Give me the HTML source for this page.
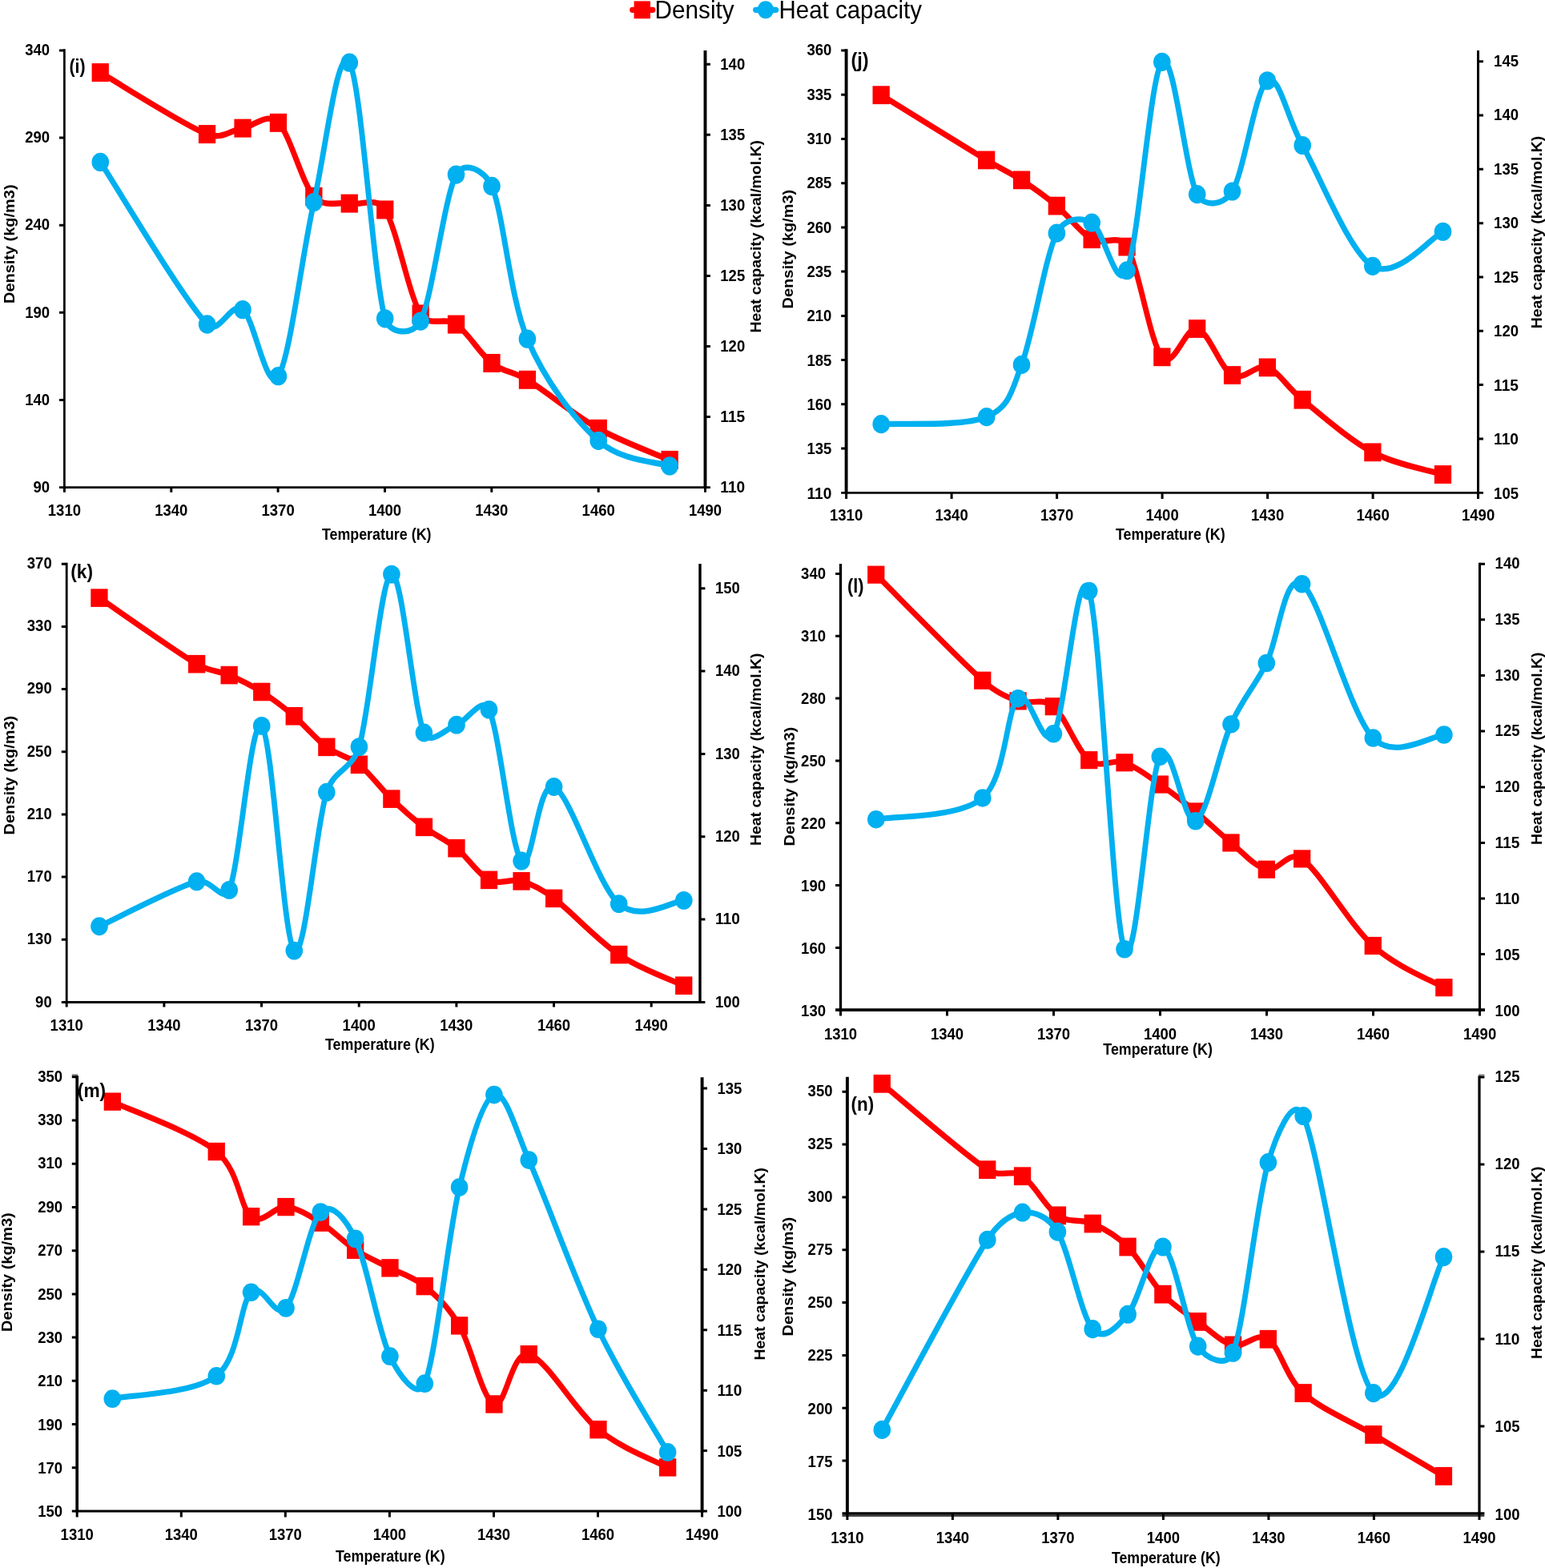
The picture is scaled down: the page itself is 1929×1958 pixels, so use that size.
<!DOCTYPE html>
<html lang="en"><head><meta charset="utf-8">
<title>Density and heat capacity versus temperature</title>
<style>
html,body{margin:0;padding:0;background:#fff;}
body{width:1929px;height:1958px;overflow:hidden;}
svg{display:block;filter:blur(0.5px);}
text{font-family:"Liberation Sans",sans-serif;fill:#000;}
.tk{font-weight:bold;font-size:19.4px;}
.tt{font-weight:bold;font-size:19.4px;}
.vt{font-weight:bold;font-size:18.6px;}
.pl{font-weight:bold;font-size:24.2px;}
.lg{font-size:32px;}
.ax{stroke:#000;fill:none;stroke-linecap:butt;}
.t{stroke:#000;stroke-width:3;fill:none;stroke-linecap:butt;}
.r{stroke:#ff0000;stroke-width:6.85;fill:none;stroke-linejoin:round;stroke-linecap:round;}
.c{stroke:#00b0f0;stroke-width:6.85;fill:none;stroke-linejoin:round;stroke-linecap:round;}
.rm{fill:#ff0000;}
.cm{fill:#00b0f0;}
</style></head><body>
<svg xmlns="http://www.w3.org/2000/svg" width="1929" height="1958" viewBox="0 0 1929 1958">
<rect width="1929" height="1958" fill="#fff"/>
<g id="legend">
<g transform="scale(1 1.07)">
<path class="r" d="M789.6 11.5H815"/>
<rect class="rm" x="791.6" y="1.3" width="20.4" height="20.4"/>
<path class="c" d="M943.5 11.5H968.8"/>
<circle class="cm" cx="955.9" cy="11.5" r="10.3"/>
</g>
<text class="lg" x="817.6" y="22.6" textLength="99" lengthAdjust="spacingAndGlyphs">Density</text>
<text class="lg" x="972.6" y="22.6" textLength="178.4" lengthAdjust="spacingAndGlyphs">Heat capacity</text>
</g>
<g id="panel-i">
<path class="ax" stroke-width="2.7" d="M80.4 61.2V610.1"/>
<path class="ax" stroke-width="3.9" d="M880.5 63.1V610.1"/>
<path class="ax" stroke-width="2.9" d="M74 608.6H886.9"/>
<path class="t" d="M74 62.9H80.4M74 172H80.4M74 281.2H80.4M74 390.3H80.4M74 499.5H80.4M880.5 80.3H886.9M880.5 168.3H886.9M880.5 256.4H886.9M880.5 344.4H886.9M880.5 432.5H886.9M880.5 520.5H886.9M80.4 608.6V614.7M213.8 608.6V614.7M347.1 608.6V614.7M480.5 608.6V614.7M613.8 608.6V614.7M747.2 608.6V614.7M880.5 608.6V614.7"/>
<text class="tk" x="31.2" y="69.2" textLength="30.9" lengthAdjust="spacingAndGlyphs">340</text>
<text class="tk" x="31.2" y="178.3" textLength="30.9" lengthAdjust="spacingAndGlyphs">290</text>
<text class="tk" x="31.2" y="287.4" textLength="30.9" lengthAdjust="spacingAndGlyphs">240</text>
<text class="tk" x="31.2" y="396.5" textLength="30.9" lengthAdjust="spacingAndGlyphs">190</text>
<text class="tk" x="31.2" y="505.7" textLength="30.9" lengthAdjust="spacingAndGlyphs">140</text>
<text class="tk" x="41.5" y="614.8" textLength="20.6" lengthAdjust="spacingAndGlyphs">90</text>
<text class="tk" x="899.3" y="86.9" textLength="30.9" lengthAdjust="spacingAndGlyphs">140</text>
<text class="tk" x="899.3" y="174.8" textLength="30.9" lengthAdjust="spacingAndGlyphs">135</text>
<text class="tk" x="899.3" y="262.9" textLength="30.9" lengthAdjust="spacingAndGlyphs">130</text>
<text class="tk" x="899.3" y="350.8" textLength="30.9" lengthAdjust="spacingAndGlyphs">125</text>
<text class="tk" x="899.3" y="438.8" textLength="30.9" lengthAdjust="spacingAndGlyphs">120</text>
<text class="tk" x="899.3" y="526.9" textLength="30.9" lengthAdjust="spacingAndGlyphs">115</text>
<text class="tk" x="899.3" y="614.9" textLength="30.9" lengthAdjust="spacingAndGlyphs">110</text>
<text class="tk" x="59.8" y="644" textLength="41.2" lengthAdjust="spacingAndGlyphs">1310</text>
<text class="tk" x="193.2" y="644" textLength="41.2" lengthAdjust="spacingAndGlyphs">1340</text>
<text class="tk" x="326.5" y="644" textLength="41.2" lengthAdjust="spacingAndGlyphs">1370</text>
<text class="tk" x="459.9" y="644" textLength="41.2" lengthAdjust="spacingAndGlyphs">1400</text>
<text class="tk" x="593.2" y="644" textLength="41.2" lengthAdjust="spacingAndGlyphs">1430</text>
<text class="tk" x="726.6" y="644" textLength="41.2" lengthAdjust="spacingAndGlyphs">1460</text>
<text class="tk" x="859.9" y="644" textLength="41.2" lengthAdjust="spacingAndGlyphs">1490</text>
<text class="tt" x="401.9" y="674" textLength="136.6" lengthAdjust="spacingAndGlyphs">Temperature (K)</text>
<text class="vt" transform="translate(17.6 379) rotate(-90)" textLength="148.6" lengthAdjust="spacingAndGlyphs">Density (kg/m3)</text>
<text class="vt" transform="translate(950 415.6) rotate(-90)" textLength="240.6" lengthAdjust="spacingAndGlyphs">Heat capacity (kcal/mol.K)</text>
<g transform="scale(1 1.08)">
<path class="r" d="M125.3 83.9C147.5 95.8 229 144.5 258.6 155.2C276.8 161.8 288.2 150.4 303 148.2C317.8 146 333 129.1 347.4 141.9C362.2 155.1 377 211.6 391.9 227.1C405.2 241.2 421.5 232.7 436.3 235.3C451.1 237.9 469.6 226.7 480.7 242.6C495.5 263.9 510.3 340.9 525.1 363C536.1 379.4 554.7 365.5 569.5 375C584.4 384.5 599.2 409.1 614 419.8C628.8 430.5 640.3 428.9 658.4 439.2C680.6 451.8 717.6 480.2 747.2 495.6C776.9 511.1 821.3 525.8 836.1 531.9"/>
<rect class="rm" x="114.6" y="73.2" width="21.3" height="21.3"/>
<rect class="rm" x="247.9" y="144.5" width="21.3" height="21.3"/>
<rect class="rm" x="292.4" y="137.6" width="21.3" height="21.3"/>
<rect class="rm" x="336.8" y="131.3" width="21.3" height="21.3"/>
<rect class="rm" x="381.2" y="216.5" width="21.3" height="21.3"/>
<rect class="rm" x="425.6" y="224.6" width="21.3" height="21.3"/>
<rect class="rm" x="470.1" y="231.9" width="21.3" height="21.3"/>
<rect class="rm" x="514.5" y="352.3" width="21.3" height="21.3"/>
<rect class="rm" x="558.9" y="364.4" width="21.3" height="21.3"/>
<rect class="rm" x="603.3" y="409.2" width="21.3" height="21.3"/>
<rect class="rm" x="647.8" y="428.5" width="21.3" height="21.3"/>
<rect class="rm" x="736.6" y="485" width="21.3" height="21.3"/>
<rect class="rm" x="825.5" y="521.2" width="21.3" height="21.3"/>
<path class="c" d="M125.3 187.4C147.5 218.7 229 346.6 258.6 375C273.3 389.2 288.2 348 303 358C317.8 367.9 332.6 455.6 347.4 434.9C362.2 414.2 377 294.3 391.9 233.9C406.7 173.5 421.5 50 436.3 72.4C451.1 94.8 465.9 318.6 480.7 368.4C486.2 386.8 516.1 388.3 525.1 371.4C539.9 343.6 554.7 228 569.5 201.9C579.4 184.6 605.5 197.1 614 215.2C628.8 246.8 636.2 342.7 658.4 391.8C680.6 440.8 717.6 485.1 747.2 509.6C776.9 534.1 821.3 533.9 836.1 538.8"/>
<circle class="cm" cx="125.3" cy="187.4" r="10.8"/>
<circle class="cm" cx="258.6" cy="375" r="10.8"/>
<circle class="cm" cx="303" cy="358" r="10.8"/>
<circle class="cm" cx="347.4" cy="434.9" r="10.8"/>
<circle class="cm" cx="391.9" cy="233.9" r="10.8"/>
<circle class="cm" cx="436.3" cy="72.4" r="10.8"/>
<circle class="cm" cx="480.7" cy="368.4" r="10.8"/>
<circle class="cm" cx="525.1" cy="371.4" r="10.8"/>
<circle class="cm" cx="569.5" cy="201.9" r="10.8"/>
<circle class="cm" cx="614" cy="215.2" r="10.8"/>
<circle class="cm" cx="658.4" cy="391.8" r="10.8"/>
<circle class="cm" cx="747.2" cy="509.6" r="10.8"/>
<circle class="cm" cx="836.1" cy="538.8" r="10.8"/>
</g>
<text class="pl" x="86.4" y="90.6" textLength="20.2" lengthAdjust="spacingAndGlyphs">(i)</text>
</g>
<g id="panel-j">
<path class="ax" stroke-width="3.9" d="M1056.6 61.3V616.6"/>
<path class="ax" stroke-width="3" d="M1845.5 63.1V616.6"/>
<path class="ax" stroke-width="2.7" d="M1050.2 615.3H1852"/>
<path class="t" d="M1050.2 63H1056.6M1050.2 118.2H1056.6M1050.2 173.5H1056.6M1050.2 228.7H1056.6M1050.2 283.9H1056.6M1050.2 339.1H1056.6M1050.2 394.4H1056.6M1050.2 449.6H1056.6M1050.2 504.8H1056.6M1050.2 560.1H1056.6M1845.5 76.7H1852M1845.5 144H1852M1845.5 211.3H1852M1845.5 278.7H1852M1845.5 346H1852M1845.5 413.3H1852M1845.5 480.6H1852M1845.5 548H1852M1056.6 615.3V622.9M1188.1 615.3V622.9M1319.6 615.3V622.9M1451.1 615.3V622.9M1582.6 615.3V622.9M1714.1 615.3V622.9M1845.5 615.3V622.9"/>
<text class="tk" x="1007.4" y="69.2" textLength="30.9" lengthAdjust="spacingAndGlyphs">360</text>
<text class="tk" x="1007.4" y="124.5" textLength="30.9" lengthAdjust="spacingAndGlyphs">335</text>
<text class="tk" x="1007.4" y="179.8" textLength="30.9" lengthAdjust="spacingAndGlyphs">310</text>
<text class="tk" x="1007.4" y="235.2" textLength="30.9" lengthAdjust="spacingAndGlyphs">285</text>
<text class="tk" x="1007.4" y="290.5" textLength="30.9" lengthAdjust="spacingAndGlyphs">260</text>
<text class="tk" x="1007.4" y="345.9" textLength="30.9" lengthAdjust="spacingAndGlyphs">235</text>
<text class="tk" x="1007.4" y="401.2" textLength="30.9" lengthAdjust="spacingAndGlyphs">210</text>
<text class="tk" x="1007.4" y="456.6" textLength="30.9" lengthAdjust="spacingAndGlyphs">185</text>
<text class="tk" x="1007.4" y="511.9" textLength="30.9" lengthAdjust="spacingAndGlyphs">160</text>
<text class="tk" x="1007.4" y="567.2" textLength="30.9" lengthAdjust="spacingAndGlyphs">135</text>
<text class="tk" x="1007.4" y="622.6" textLength="30.9" lengthAdjust="spacingAndGlyphs">110</text>
<text class="tk" x="1865.1" y="82.8" textLength="30.9" lengthAdjust="spacingAndGlyphs">145</text>
<text class="tk" x="1865.1" y="150.2" textLength="30.9" lengthAdjust="spacingAndGlyphs">140</text>
<text class="tk" x="1865.1" y="217.7" textLength="30.9" lengthAdjust="spacingAndGlyphs">135</text>
<text class="tk" x="1865.1" y="285.2" textLength="30.9" lengthAdjust="spacingAndGlyphs">130</text>
<text class="tk" x="1865.1" y="352.7" textLength="30.9" lengthAdjust="spacingAndGlyphs">125</text>
<text class="tk" x="1865.1" y="420.2" textLength="30.9" lengthAdjust="spacingAndGlyphs">120</text>
<text class="tk" x="1865.1" y="487.7" textLength="30.9" lengthAdjust="spacingAndGlyphs">115</text>
<text class="tk" x="1865.1" y="555.2" textLength="30.9" lengthAdjust="spacingAndGlyphs">110</text>
<text class="tk" x="1865.1" y="622.7" textLength="30.9" lengthAdjust="spacingAndGlyphs">105</text>
<text class="tk" x="1036" y="650.3" textLength="41.2" lengthAdjust="spacingAndGlyphs">1310</text>
<text class="tk" x="1167.5" y="650.3" textLength="41.2" lengthAdjust="spacingAndGlyphs">1340</text>
<text class="tk" x="1299" y="650.3" textLength="41.2" lengthAdjust="spacingAndGlyphs">1370</text>
<text class="tk" x="1430.5" y="650.3" textLength="41.2" lengthAdjust="spacingAndGlyphs">1400</text>
<text class="tk" x="1562" y="650.3" textLength="41.2" lengthAdjust="spacingAndGlyphs">1430</text>
<text class="tk" x="1693.5" y="650.3" textLength="41.2" lengthAdjust="spacingAndGlyphs">1460</text>
<text class="tk" x="1825" y="650.3" textLength="41.2" lengthAdjust="spacingAndGlyphs">1490</text>
<text class="tt" x="1393" y="673.8" textLength="136.6" lengthAdjust="spacingAndGlyphs">Temperature (K)</text>
<text class="vt" transform="translate(990.2 385.4) rotate(-90)" textLength="148.6" lengthAdjust="spacingAndGlyphs">Density (kg/m3)</text>
<text class="vt" transform="translate(1925 410.3) rotate(-90)" textLength="240.6" lengthAdjust="spacingAndGlyphs">Heat capacity (kcal/mol.K)</text>
<g transform="scale(1 1.07)">
<path class="r" d="M1100.2 110.9C1122.1 123.6 1202.5 170.3 1231.7 186.8C1250.3 197.3 1260.9 201.3 1275.5 210.2C1290.1 219.1 1304.8 228.8 1319.4 240.3C1334 251.8 1348.6 271.2 1363.2 279.2C1377.8 287.1 1396.7 271.7 1407 287.9C1421.6 310.9 1436.2 400.7 1450.8 416.6C1465.5 432.6 1480.1 380.1 1494.7 383.6C1509.3 387.2 1523.9 430.3 1538.5 437.9C1553.1 445.4 1567.7 424.1 1582.3 428.9C1596.9 433.7 1606.3 451.6 1626.2 466.5C1648.1 483 1684.6 513.3 1713.8 527.9C1743.1 542.4 1786.9 549.4 1801.5 553.7"/>
<rect class="rm" x="1089.5" y="100.3" width="21.3" height="21.3"/>
<rect class="rm" x="1221" y="176.2" width="21.3" height="21.3"/>
<rect class="rm" x="1264.9" y="199.5" width="21.3" height="21.3"/>
<rect class="rm" x="1308.7" y="229.6" width="21.3" height="21.3"/>
<rect class="rm" x="1352.5" y="268.5" width="21.3" height="21.3"/>
<rect class="rm" x="1396.4" y="277.3" width="21.3" height="21.3"/>
<rect class="rm" x="1440.2" y="406" width="21.3" height="21.3"/>
<rect class="rm" x="1484" y="373" width="21.3" height="21.3"/>
<rect class="rm" x="1527.9" y="427.2" width="21.3" height="21.3"/>
<rect class="rm" x="1571.7" y="418.2" width="21.3" height="21.3"/>
<rect class="rm" x="1615.5" y="455.9" width="21.3" height="21.3"/>
<rect class="rm" x="1703.2" y="517.2" width="21.3" height="21.3"/>
<rect class="rm" x="1790.8" y="543.1" width="21.3" height="21.3"/>
<path class="c" d="M1100.2 495C1122.1 493.6 1202.5 498.2 1231.7 486.6C1260.9 475.1 1263.3 455.5 1275.5 425.6C1290.1 389.9 1304.8 299.8 1319.4 272.1C1328.5 254.9 1348.6 252.6 1363.2 259.9C1377.8 267.2 1394.1 343.3 1407 315.7C1421.6 284.4 1436.2 87.2 1450.8 72.3C1465.5 57.5 1480.1 201.6 1494.7 226.7C1504.2 243.1 1528.1 239.1 1538.5 223.4C1553.1 201.3 1567.7 103.2 1582.3 94.2C1597 85.2 1606.7 137.6 1626.2 169.6C1648.1 205.7 1684.6 293.8 1713.8 310.6C1743.1 327.3 1786.9 277 1801.5 270.3"/>
<circle class="cm" cx="1100.2" cy="495" r="10.8"/>
<circle class="cm" cx="1231.7" cy="486.6" r="10.8"/>
<circle class="cm" cx="1275.5" cy="425.6" r="10.8"/>
<circle class="cm" cx="1319.4" cy="272.1" r="10.8"/>
<circle class="cm" cx="1363.2" cy="259.9" r="10.8"/>
<circle class="cm" cx="1407" cy="315.7" r="10.8"/>
<circle class="cm" cx="1450.8" cy="72.3" r="10.8"/>
<circle class="cm" cx="1494.7" cy="226.7" r="10.8"/>
<circle class="cm" cx="1538.5" cy="223.4" r="10.8"/>
<circle class="cm" cx="1582.3" cy="94.2" r="10.8"/>
<circle class="cm" cx="1626.2" cy="169.6" r="10.8"/>
<circle class="cm" cx="1713.8" cy="310.6" r="10.8"/>
<circle class="cm" cx="1801.5" cy="270.3" r="10.8"/>
</g>
<text class="pl" style="font-size:25px" x="1062.4" y="84" textLength="22.2" lengthAdjust="spacingAndGlyphs">(j)</text>
</g>
<g id="panel-k">
<path class="ax" stroke-width="2.8" d="M83.2 702.8V1252.9"/>
<path class="ax" stroke-width="3.4" d="M874 704V1252.9"/>
<path class="ax" stroke-width="2.8" d="M76.8 1251.5H880.4"/>
<path class="t" d="M76.8 704.3H83.2M76.8 782.5H83.2M76.8 860.6H83.2M76.8 938.8H83.2M76.8 1017H83.2M76.8 1095.1H83.2M76.8 1173.3H83.2M874 734.7H880.4M874 838H880.4M874 941.4H880.4M874 1044.8H880.4M874 1148.1H880.4M83.2 1251.5V1257.5M204.9 1251.5V1257.5M326.5 1251.5V1257.5M448.2 1251.5V1257.5M569.9 1251.5V1257.5M691.5 1251.5V1257.5M813.2 1251.5V1257.5"/>
<text class="tk" x="33.8" y="710" textLength="30.9" lengthAdjust="spacingAndGlyphs">370</text>
<text class="tk" x="33.8" y="788.2" textLength="30.9" lengthAdjust="spacingAndGlyphs">330</text>
<text class="tk" x="33.8" y="866.4" textLength="30.9" lengthAdjust="spacingAndGlyphs">290</text>
<text class="tk" x="33.8" y="944.6" textLength="30.9" lengthAdjust="spacingAndGlyphs">250</text>
<text class="tk" x="33.8" y="1022.8" textLength="30.9" lengthAdjust="spacingAndGlyphs">210</text>
<text class="tk" x="33.8" y="1101.1" textLength="30.9" lengthAdjust="spacingAndGlyphs">170</text>
<text class="tk" x="33.8" y="1179.3" textLength="30.9" lengthAdjust="spacingAndGlyphs">130</text>
<text class="tk" x="44.1" y="1257.5" textLength="20.6" lengthAdjust="spacingAndGlyphs">90</text>
<text class="tk" x="892.9" y="740.8" textLength="30.9" lengthAdjust="spacingAndGlyphs">150</text>
<text class="tk" x="892.9" y="844.1" textLength="30.9" lengthAdjust="spacingAndGlyphs">140</text>
<text class="tk" x="892.9" y="947.5" textLength="30.9" lengthAdjust="spacingAndGlyphs">130</text>
<text class="tk" x="892.9" y="1050.8" textLength="30.9" lengthAdjust="spacingAndGlyphs">120</text>
<text class="tk" x="892.9" y="1154.2" textLength="30.9" lengthAdjust="spacingAndGlyphs">110</text>
<text class="tk" x="892.9" y="1257.5" textLength="30.9" lengthAdjust="spacingAndGlyphs">100</text>
<text class="tk" x="62.6" y="1286.8" textLength="41.2" lengthAdjust="spacingAndGlyphs">1310</text>
<text class="tk" x="184.3" y="1286.8" textLength="41.2" lengthAdjust="spacingAndGlyphs">1340</text>
<text class="tk" x="305.9" y="1286.8" textLength="41.2" lengthAdjust="spacingAndGlyphs">1370</text>
<text class="tk" x="427.6" y="1286.8" textLength="41.2" lengthAdjust="spacingAndGlyphs">1400</text>
<text class="tk" x="549.2" y="1286.8" textLength="41.2" lengthAdjust="spacingAndGlyphs">1430</text>
<text class="tk" x="670.9" y="1286.8" textLength="41.2" lengthAdjust="spacingAndGlyphs">1460</text>
<text class="tk" x="792.6" y="1286.8" textLength="41.2" lengthAdjust="spacingAndGlyphs">1490</text>
<text class="tt" x="406" y="1311.2" textLength="136.6" lengthAdjust="spacingAndGlyphs">Temperature (K)</text>
<text class="vt" transform="translate(17.6 1042.4) rotate(-90)" textLength="148.6" lengthAdjust="spacingAndGlyphs">Density (kg/m3)</text>
<text class="vt" transform="translate(949.5 1056) rotate(-90)" textLength="240.6" lengthAdjust="spacingAndGlyphs">Heat capacity (kcal/mol.K)</text>
<g transform="scale(1 1.06)">
<path class="r" d="M124 704.3C144.3 717.3 218.6 767.1 245.6 782.3C261.6 791.2 272.7 789.9 286.2 795.4C299.7 800.8 313.2 807 326.7 815.1C340.2 823.1 353.8 832.8 367.3 843.7C380.8 854.5 394.3 870.6 407.8 880.1C421.3 889.6 434.8 890.6 448.4 900.8C461.9 910.9 475.4 928.9 488.9 941.1C502.4 953.4 515.9 964.7 529.4 974.3C543 984 556.5 988.9 570 999.2C583.5 1009.6 597 1030.1 610.5 1036.6C624 1043.1 637.6 1034.4 651.1 1038C664.6 1041.6 675.7 1047 691.6 1058.3C711.9 1072.7 745.7 1107.5 772.7 1124.6C799.7 1141.7 840.3 1155 853.8 1161"/>
<rect class="rm" x="113.3" y="693.7" width="21.3" height="21.3"/>
<rect class="rm" x="235" y="771.6" width="21.3" height="21.3"/>
<rect class="rm" x="275.5" y="784.7" width="21.3" height="21.3"/>
<rect class="rm" x="316.1" y="804.4" width="21.3" height="21.3"/>
<rect class="rm" x="356.6" y="833" width="21.3" height="21.3"/>
<rect class="rm" x="397.2" y="869.4" width="21.3" height="21.3"/>
<rect class="rm" x="437.7" y="890.1" width="21.3" height="21.3"/>
<rect class="rm" x="478.2" y="930.5" width="21.3" height="21.3"/>
<rect class="rm" x="518.8" y="963.7" width="21.3" height="21.3"/>
<rect class="rm" x="559.3" y="988.6" width="21.3" height="21.3"/>
<rect class="rm" x="599.9" y="1026" width="21.3" height="21.3"/>
<rect class="rm" x="640.4" y="1027.4" width="21.3" height="21.3"/>
<rect class="rm" x="681" y="1047.7" width="21.3" height="21.3"/>
<rect class="rm" x="762.1" y="1114" width="21.3" height="21.3"/>
<rect class="rm" x="843.1" y="1150.4" width="21.3" height="21.3"/>
<path class="c" d="M124 1091.3C144.3 1082.5 218.6 1045.6 245.6 1038.5C263 1033.9 278.9 1064.9 286.2 1048.5C299.7 1017.9 313.2 843.2 326.7 855.1C340.2 867 353.8 1106.9 367.3 1119.9C380.8 1132.9 394.3 973.3 407.8 933.3C417 906 439.7 907.3 448.4 879.8C461.9 837 475.4 679.3 488.9 676.5C502.4 673.7 515.9 833.6 529.4 863.2C536.9 879.5 556.5 858.4 570 853.9C583.5 849.3 601.9 819 610.5 836C624 862.8 637.6 999.1 651.1 1014.2C664.6 1029.4 671.3 918.5 691.6 926.9C711.9 935.3 745.7 1042.4 772.7 1064.7C799.6 1086.9 840.3 1061.3 853.8 1060.7"/>
<circle class="cm" cx="124" cy="1091.3" r="10.8"/>
<circle class="cm" cx="245.6" cy="1038.5" r="10.8"/>
<circle class="cm" cx="286.2" cy="1048.5" r="10.8"/>
<circle class="cm" cx="326.7" cy="855.1" r="10.8"/>
<circle class="cm" cx="367.3" cy="1119.9" r="10.8"/>
<circle class="cm" cx="407.8" cy="933.3" r="10.8"/>
<circle class="cm" cx="448.4" cy="879.8" r="10.8"/>
<circle class="cm" cx="488.9" cy="676.5" r="10.8"/>
<circle class="cm" cx="529.4" cy="863.2" r="10.8"/>
<circle class="cm" cx="570" cy="853.9" r="10.8"/>
<circle class="cm" cx="610.5" cy="836" r="10.8"/>
<circle class="cm" cx="651.1" cy="1014.2" r="10.8"/>
<circle class="cm" cx="691.6" cy="926.9" r="10.8"/>
<circle class="cm" cx="772.7" cy="1064.7" r="10.8"/>
<circle class="cm" cx="853.8" cy="1060.7" r="10.8"/>
</g>
<text class="pl" x="88.2" y="722" textLength="27.8" lengthAdjust="spacingAndGlyphs">(k)</text>
</g>
<g id="panel-l">
<path class="ax" stroke-width="3.3" d="M1049.5 704V1263.2"/>
<path class="ax" stroke-width="3.1" d="M1847.5 702.8V1263.2"/>
<path class="ax" stroke-width="3.8" d="M1043.1 1261.2H1854"/>
<path class="t" d="M1043.1 716.4H1049.5M1043.1 794.2H1049.5M1043.1 872.1H1049.5M1043.1 949.9H1049.5M1043.1 1027.7H1049.5M1043.1 1105.6H1049.5M1043.1 1183.4H1049.5M1847.5 704.2H1854M1847.5 773.8H1854M1847.5 843.5H1854M1847.5 913.1H1854M1847.5 982.7H1854M1847.5 1052.4H1854M1847.5 1122H1854M1847.5 1191.6H1854M1049.5 1261.2V1268.5M1182.5 1261.2V1268.5M1315.5 1261.2V1268.5M1448.5 1261.2V1268.5M1581.5 1261.2V1268.5M1714.5 1261.2V1268.5M1847.5 1261.2V1268.5"/>
<text class="tk" x="1000.1" y="723.1" textLength="30.9" lengthAdjust="spacingAndGlyphs">340</text>
<text class="tk" x="1000.1" y="801" textLength="30.9" lengthAdjust="spacingAndGlyphs">310</text>
<text class="tk" x="1000.1" y="878.9" textLength="30.9" lengthAdjust="spacingAndGlyphs">280</text>
<text class="tk" x="1000.1" y="956.8" textLength="30.9" lengthAdjust="spacingAndGlyphs">250</text>
<text class="tk" x="1000.1" y="1034.7" textLength="30.9" lengthAdjust="spacingAndGlyphs">220</text>
<text class="tk" x="1000.1" y="1112.6" textLength="30.9" lengthAdjust="spacingAndGlyphs">190</text>
<text class="tk" x="1000.1" y="1190.5" textLength="30.9" lengthAdjust="spacingAndGlyphs">160</text>
<text class="tk" x="1000.1" y="1268.5" textLength="30.9" lengthAdjust="spacingAndGlyphs">130</text>
<text class="tk" x="1866.6" y="709.8" textLength="30.9" lengthAdjust="spacingAndGlyphs">140</text>
<text class="tk" x="1866.6" y="779.6" textLength="30.9" lengthAdjust="spacingAndGlyphs">135</text>
<text class="tk" x="1866.6" y="849.5" textLength="30.9" lengthAdjust="spacingAndGlyphs">130</text>
<text class="tk" x="1866.6" y="919.3" textLength="30.9" lengthAdjust="spacingAndGlyphs">125</text>
<text class="tk" x="1866.6" y="989.2" textLength="30.9" lengthAdjust="spacingAndGlyphs">120</text>
<text class="tk" x="1866.6" y="1059" textLength="30.9" lengthAdjust="spacingAndGlyphs">115</text>
<text class="tk" x="1866.6" y="1128.9" textLength="30.9" lengthAdjust="spacingAndGlyphs">110</text>
<text class="tk" x="1866.6" y="1198.7" textLength="30.9" lengthAdjust="spacingAndGlyphs">105</text>
<text class="tk" x="1866.6" y="1268.5" textLength="30.9" lengthAdjust="spacingAndGlyphs">100</text>
<text class="tk" x="1028.9" y="1297.9" textLength="41.2" lengthAdjust="spacingAndGlyphs">1310</text>
<text class="tk" x="1161.9" y="1297.9" textLength="41.2" lengthAdjust="spacingAndGlyphs">1340</text>
<text class="tk" x="1294.9" y="1297.9" textLength="41.2" lengthAdjust="spacingAndGlyphs">1370</text>
<text class="tk" x="1427.9" y="1297.9" textLength="41.2" lengthAdjust="spacingAndGlyphs">1400</text>
<text class="tk" x="1560.9" y="1297.9" textLength="41.2" lengthAdjust="spacingAndGlyphs">1430</text>
<text class="tk" x="1693.9" y="1297.9" textLength="41.2" lengthAdjust="spacingAndGlyphs">1460</text>
<text class="tk" x="1827" y="1297.9" textLength="41.2" lengthAdjust="spacingAndGlyphs">1490</text>
<text class="tt" x="1377.3" y="1316.6" textLength="136.6" lengthAdjust="spacingAndGlyphs">Temperature (K)</text>
<text class="vt" transform="translate(992.4 1056.4) rotate(-90)" textLength="148.6" lengthAdjust="spacingAndGlyphs">Density (kg/m3)</text>
<text class="vt" transform="translate(1925 1055) rotate(-90)" textLength="240.6" lengthAdjust="spacingAndGlyphs">Heat capacity (kcal/mol.K)</text>
<g transform="scale(1 1.04)">
<path class="r" d="M1093.8 690.1C1116 711.2 1197.2 791.7 1226.8 817C1243.3 831.2 1256.3 836.5 1271.1 841.7C1285.9 846.9 1300.6 836.4 1315.4 848.3C1330.2 860.1 1344.9 901.5 1359.7 912.7C1374.5 923.9 1389.3 910.8 1404 915.7C1418.8 920.5 1433.6 932 1448.3 941.8C1463.1 951.6 1477.9 962.7 1492.7 974.4C1507.4 986.1 1522.2 1000.3 1537 1011.9C1551.8 1023.5 1566.5 1040.7 1581.3 1043.9C1596.1 1047.1 1609.3 1019.9 1625.6 1031.2C1647.8 1046.4 1684.7 1109.8 1714.3 1135.6C1743.8 1161.3 1788.1 1177.4 1802.9 1185.8"/>
<rect class="rm" x="1083.1" y="679.4" width="21.3" height="21.3"/>
<rect class="rm" x="1216.1" y="806.4" width="21.3" height="21.3"/>
<rect class="rm" x="1260.4" y="831.1" width="21.3" height="21.3"/>
<rect class="rm" x="1304.7" y="837.6" width="21.3" height="21.3"/>
<rect class="rm" x="1349.1" y="902" width="21.3" height="21.3"/>
<rect class="rm" x="1393.4" y="905" width="21.3" height="21.3"/>
<rect class="rm" x="1437.7" y="931.2" width="21.3" height="21.3"/>
<rect class="rm" x="1482" y="963.8" width="21.3" height="21.3"/>
<rect class="rm" x="1526.3" y="1001.3" width="21.3" height="21.3"/>
<rect class="rm" x="1570.7" y="1033.3" width="21.3" height="21.3"/>
<rect class="rm" x="1615" y="1020.5" width="21.3" height="21.3"/>
<rect class="rm" x="1703.6" y="1124.9" width="21.3" height="21.3"/>
<rect class="rm" x="1792.2" y="1175.1" width="21.3" height="21.3"/>
<path class="c" d="M1093.8 983.8C1116 979.6 1197.2 982.3 1226.8 958.1C1256.3 933.9 1256.3 851.4 1271.1 838.6C1285.9 825.7 1300.6 902.5 1315.4 881C1330.2 859.5 1344.9 666.5 1359.7 709.6C1374.5 752.7 1389.3 1106.6 1404 1139.7C1418.8 1172.8 1433.6 934 1448.3 908.4C1463.1 882.7 1477.9 992.2 1492.7 985.8C1507.4 979.3 1522.2 901.2 1537 869.6C1551.8 838 1566.5 824.2 1581.3 796.2C1596.1 768.1 1603.5 686.2 1625.6 701.2C1647.8 716.1 1684.7 855.9 1714.3 886.1C1741 913.3 1788.1 882.9 1802.9 882.2"/>
<circle class="cm" cx="1093.8" cy="983.8" r="10.8"/>
<circle class="cm" cx="1226.8" cy="958.1" r="10.8"/>
<circle class="cm" cx="1271.1" cy="838.6" r="10.8"/>
<circle class="cm" cx="1315.4" cy="881" r="10.8"/>
<circle class="cm" cx="1359.7" cy="709.6" r="10.8"/>
<circle class="cm" cx="1404" cy="1139.7" r="10.8"/>
<circle class="cm" cx="1448.3" cy="908.4" r="10.8"/>
<circle class="cm" cx="1492.7" cy="985.8" r="10.8"/>
<circle class="cm" cx="1537" cy="869.6" r="10.8"/>
<circle class="cm" cx="1581.3" cy="796.2" r="10.8"/>
<circle class="cm" cx="1625.6" cy="701.2" r="10.8"/>
<circle class="cm" cx="1714.3" cy="886.1" r="10.8"/>
<circle class="cm" cx="1802.9" cy="882.2" r="10.8"/>
</g>
<text class="pl" x="1058" y="740" textLength="20.6" lengthAdjust="spacingAndGlyphs">(l)</text>
</g>
<g id="panel-m">
<rect x="89.8" y="1341.3" width="7.4" height="2.2" fill="#808080"/>
<path class="ax" stroke-width="3.7" d="M96.2 1343.2V1888.5"/>
<path class="ax" stroke-width="3.9" d="M876.6 1345.2V1888.5"/>
<path class="ax" stroke-width="2.9" d="M89.8 1887H883"/>
<path class="t" d="M89.8 1344.8H96.2M89.8 1399H96.2M89.8 1453.2H96.2M89.8 1507.5H96.2M89.8 1561.7H96.2M89.8 1615.9H96.2M89.8 1670.1H96.2M89.8 1724.3H96.2M89.8 1778.6H96.2M89.8 1832.8H96.2M876.6 1359.1H883M876.6 1434.5H883M876.6 1509.9H883M876.6 1585.3H883M876.6 1660.8H883M876.6 1736.2H883M876.6 1811.6H883M96.2 1887V1894.6M226.3 1887V1894.6M356.3 1887V1894.6M486.4 1887V1894.6M616.5 1887V1894.6M746.5 1887V1894.6M876.6 1887V1894.6"/>
<text class="tk" x="47.2" y="1350.5" textLength="30.9" lengthAdjust="spacingAndGlyphs">350</text>
<text class="tk" x="47.2" y="1404.9" textLength="30.9" lengthAdjust="spacingAndGlyphs">330</text>
<text class="tk" x="47.2" y="1459.3" textLength="30.9" lengthAdjust="spacingAndGlyphs">310</text>
<text class="tk" x="47.2" y="1513.7" textLength="30.9" lengthAdjust="spacingAndGlyphs">290</text>
<text class="tk" x="47.2" y="1568.1" textLength="30.9" lengthAdjust="spacingAndGlyphs">270</text>
<text class="tk" x="47.2" y="1622.5" textLength="30.9" lengthAdjust="spacingAndGlyphs">250</text>
<text class="tk" x="47.2" y="1676.9" textLength="30.9" lengthAdjust="spacingAndGlyphs">230</text>
<text class="tk" x="47.2" y="1731.2" textLength="30.9" lengthAdjust="spacingAndGlyphs">210</text>
<text class="tk" x="47.2" y="1785.6" textLength="30.9" lengthAdjust="spacingAndGlyphs">190</text>
<text class="tk" x="47.2" y="1840" textLength="30.9" lengthAdjust="spacingAndGlyphs">170</text>
<text class="tk" x="47.2" y="1894.4" textLength="30.9" lengthAdjust="spacingAndGlyphs">150</text>
<text class="tk" x="895.5" y="1365.8" textLength="30.9" lengthAdjust="spacingAndGlyphs">135</text>
<text class="tk" x="895.5" y="1441.3" textLength="30.9" lengthAdjust="spacingAndGlyphs">130</text>
<text class="tk" x="895.5" y="1516.8" textLength="30.9" lengthAdjust="spacingAndGlyphs">125</text>
<text class="tk" x="895.5" y="1592.3" textLength="30.9" lengthAdjust="spacingAndGlyphs">120</text>
<text class="tk" x="895.5" y="1667.8" textLength="30.9" lengthAdjust="spacingAndGlyphs">115</text>
<text class="tk" x="895.5" y="1743.3" textLength="30.9" lengthAdjust="spacingAndGlyphs">110</text>
<text class="tk" x="895.5" y="1818.8" textLength="30.9" lengthAdjust="spacingAndGlyphs">105</text>
<text class="tk" x="895.5" y="1894.4" textLength="30.9" lengthAdjust="spacingAndGlyphs">100</text>
<text class="tk" x="75.6" y="1923.4" textLength="41.2" lengthAdjust="spacingAndGlyphs">1310</text>
<text class="tk" x="205.7" y="1923.4" textLength="41.2" lengthAdjust="spacingAndGlyphs">1340</text>
<text class="tk" x="335.7" y="1923.4" textLength="41.2" lengthAdjust="spacingAndGlyphs">1370</text>
<text class="tk" x="465.8" y="1923.4" textLength="41.2" lengthAdjust="spacingAndGlyphs">1400</text>
<text class="tk" x="595.9" y="1923.4" textLength="41.2" lengthAdjust="spacingAndGlyphs">1430</text>
<text class="tk" x="725.9" y="1923.4" textLength="41.2" lengthAdjust="spacingAndGlyphs">1460</text>
<text class="tk" x="856" y="1923.4" textLength="41.2" lengthAdjust="spacingAndGlyphs">1490</text>
<text class="tt" x="419" y="1949.8" textLength="136.6" lengthAdjust="spacingAndGlyphs">Temperature (K)</text>
<text class="vt" transform="translate(15.2 1662.9) rotate(-90)" textLength="148.6" lengthAdjust="spacingAndGlyphs">Density (kg/m3)</text>
<text class="vt" transform="translate(955.4 1698.5) rotate(-90)" textLength="240.6" lengthAdjust="spacingAndGlyphs">Heat capacity (kcal/mol.K)</text>
<g transform="scale(1 1.05)">
<path class="r" d="M140.3 1310.2C162 1320.1 241.4 1346.7 270.3 1369.5C299.2 1392.3 299.2 1435.9 313.6 1446.9C328.1 1457.8 342.5 1434.1 357 1435.3C371.4 1436.5 385.8 1445.5 400.3 1454C414.7 1462.5 429.2 1477.5 443.6 1486.5C458.1 1495.5 472.5 1500.8 486.9 1508C501.4 1515.2 515.8 1518.2 530.3 1529.6C544.7 1541 559.2 1553.2 573.6 1576.6C588.1 1600 602.5 1664.3 616.9 1670C631.4 1675.7 638.6 1605.6 660.3 1610.7C681.9 1615.7 718.1 1677.8 746.9 1700.2C775.8 1722.6 819.2 1737.7 833.6 1745.1"/>
<rect class="rm" x="129.7" y="1299.5" width="21.3" height="21.3"/>
<rect class="rm" x="259.6" y="1358.9" width="21.3" height="21.3"/>
<rect class="rm" x="303" y="1436.2" width="21.3" height="21.3"/>
<rect class="rm" x="346.3" y="1424.7" width="21.3" height="21.3"/>
<rect class="rm" x="389.6" y="1443.3" width="21.3" height="21.3"/>
<rect class="rm" x="433" y="1475.8" width="21.3" height="21.3"/>
<rect class="rm" x="476.3" y="1497.3" width="21.3" height="21.3"/>
<rect class="rm" x="519.6" y="1519" width="21.3" height="21.3"/>
<rect class="rm" x="563" y="1565.9" width="21.3" height="21.3"/>
<rect class="rm" x="606.3" y="1659.3" width="21.3" height="21.3"/>
<rect class="rm" x="649.6" y="1600" width="21.3" height="21.3"/>
<rect class="rm" x="736.3" y="1689.5" width="21.3" height="21.3"/>
<rect class="rm" x="823" y="1734.5" width="21.3" height="21.3"/>
<path class="c" d="M140.3 1663.5C162 1659 241.4 1657.5 270.3 1636.4C299.2 1615.3 299.2 1550.3 313.6 1536.9C328.1 1523.4 343.3 1570.6 357 1555.6C371.4 1539.7 385.8 1455.3 400.3 1441.5C414.7 1427.8 433.2 1452.6 443.6 1473.2C458.1 1501.8 472.5 1584.3 486.9 1613C497.4 1633.8 521.1 1666.8 530.3 1645.4C544.7 1611.9 559.2 1469.2 573.6 1412C586 1362.7 602.5 1307.4 616.9 1302C631.4 1296.6 644.1 1345 660.3 1379.6C681.9 1426.1 718.1 1522.7 746.9 1580.7C775.8 1638.6 819.2 1702.7 833.6 1727.1"/>
<circle class="cm" cx="140.3" cy="1663.5" r="10.8"/>
<circle class="cm" cx="270.3" cy="1636.4" r="10.8"/>
<circle class="cm" cx="313.6" cy="1536.9" r="10.8"/>
<circle class="cm" cx="357" cy="1555.6" r="10.8"/>
<circle class="cm" cx="400.3" cy="1441.5" r="10.8"/>
<circle class="cm" cx="443.6" cy="1473.2" r="10.8"/>
<circle class="cm" cx="486.9" cy="1613" r="10.8"/>
<circle class="cm" cx="530.3" cy="1645.4" r="10.8"/>
<circle class="cm" cx="573.6" cy="1412" r="10.8"/>
<circle class="cm" cx="616.9" cy="1302" r="10.8"/>
<circle class="cm" cx="660.3" cy="1379.6" r="10.8"/>
<circle class="cm" cx="746.9" cy="1580.7" r="10.8"/>
<circle class="cm" cx="833.6" cy="1727.1" r="10.8"/>
</g>
<text class="pl" x="96.8" y="1370.4" textLength="35.4" lengthAdjust="spacingAndGlyphs">(m)</text>
</g>
<g id="panel-n">
<rect x="1051.5" y="1891.3" width="801.8" height="2.6" fill="#3c3c3c"/>
<rect x="1846" y="1341.5" width="7.4" height="2" fill="#808080"/>
<path class="ax" stroke-width="3.9" d="M1057.9 1344.7V1891.5"/>
<path class="ax" stroke-width="3.2" d="M1847 1343.5V1891.5"/>
<path class="ax" stroke-width="3.2" d="M1051.5 1889.9H1853.4"/>
<path class="t" d="M1051.5 1363.2H1057.9M1051.5 1429H1057.9M1051.5 1494.9H1057.9M1051.5 1560.7H1057.9M1051.5 1626.5H1057.9M1051.5 1692.4H1057.9M1051.5 1758.2H1057.9M1051.5 1824.1H1057.9M1847 1344.9H1853.4M1847 1453.9H1853.4M1847 1562.9H1853.4M1847 1671.9H1853.4M1847 1780.9H1853.4M1057.9 1889.9V1897.9M1189.4 1889.9V1897.9M1320.9 1889.9V1897.9M1452.4 1889.9V1897.9M1583.9 1889.9V1897.9M1715.4 1889.9V1897.9M1847 1889.9V1897.9"/>
<text class="tk" x="1008.6" y="1369.2" textLength="30.9" lengthAdjust="spacingAndGlyphs">350</text>
<text class="tk" x="1008.6" y="1435.2" textLength="30.9" lengthAdjust="spacingAndGlyphs">325</text>
<text class="tk" x="1008.6" y="1501.3" textLength="30.9" lengthAdjust="spacingAndGlyphs">300</text>
<text class="tk" x="1008.6" y="1567.3" textLength="30.9" lengthAdjust="spacingAndGlyphs">275</text>
<text class="tk" x="1008.6" y="1633.4" textLength="30.9" lengthAdjust="spacingAndGlyphs">250</text>
<text class="tk" x="1008.6" y="1699.4" textLength="30.9" lengthAdjust="spacingAndGlyphs">225</text>
<text class="tk" x="1008.6" y="1765.5" textLength="30.9" lengthAdjust="spacingAndGlyphs">200</text>
<text class="tk" x="1008.6" y="1831.5" textLength="30.9" lengthAdjust="spacingAndGlyphs">175</text>
<text class="tk" x="1008.6" y="1897.6" textLength="30.9" lengthAdjust="spacingAndGlyphs">150</text>
<text class="tk" x="1866.6" y="1350.5" textLength="30.9" lengthAdjust="spacingAndGlyphs">125</text>
<text class="tk" x="1866.6" y="1459.9" textLength="30.9" lengthAdjust="spacingAndGlyphs">120</text>
<text class="tk" x="1866.6" y="1569.3" textLength="30.9" lengthAdjust="spacingAndGlyphs">115</text>
<text class="tk" x="1866.6" y="1678.7" textLength="30.9" lengthAdjust="spacingAndGlyphs">110</text>
<text class="tk" x="1866.6" y="1788.1" textLength="30.9" lengthAdjust="spacingAndGlyphs">105</text>
<text class="tk" x="1866.6" y="1897.5" textLength="30.9" lengthAdjust="spacingAndGlyphs">100</text>
<text class="tk" x="1037.3" y="1927" textLength="41.2" lengthAdjust="spacingAndGlyphs">1310</text>
<text class="tk" x="1168.8" y="1927" textLength="41.2" lengthAdjust="spacingAndGlyphs">1340</text>
<text class="tk" x="1300.3" y="1927" textLength="41.2" lengthAdjust="spacingAndGlyphs">1370</text>
<text class="tk" x="1431.8" y="1927" textLength="41.2" lengthAdjust="spacingAndGlyphs">1400</text>
<text class="tk" x="1563.3" y="1927" textLength="41.2" lengthAdjust="spacingAndGlyphs">1430</text>
<text class="tk" x="1694.8" y="1927" textLength="41.2" lengthAdjust="spacingAndGlyphs">1460</text>
<text class="tk" x="1826.4" y="1927" textLength="41.2" lengthAdjust="spacingAndGlyphs">1490</text>
<text class="tt" x="1388" y="1952" textLength="135.6" lengthAdjust="spacingAndGlyphs">Temperature (K)</text>
<text class="vt" transform="translate(990.4 1668.4) rotate(-90)" textLength="148.6" lengthAdjust="spacingAndGlyphs">Density (kg/m3)</text>
<text class="vt" transform="translate(1925 1697) rotate(-90)" textLength="240.6" lengthAdjust="spacingAndGlyphs">Heat capacity (kcal/mol.K)</text>
<g transform="scale(1 1.07)">
<path class="r" d="M1101.3 1264.8C1123.2 1281.5 1203.6 1347.2 1232.8 1365.1C1249.1 1375.2 1262 1363.7 1276.6 1372.6C1291.2 1381.5 1305.8 1409.4 1320.4 1418.6C1335 1427.8 1349.6 1421.9 1364.2 1428C1378.9 1434.1 1393.5 1441.4 1408.1 1455.1C1422.7 1468.9 1437.3 1495.9 1451.9 1510.5C1466.5 1525 1481.1 1532.5 1495.7 1542.4C1510.3 1552.3 1524.9 1566.5 1539.5 1569.9C1554.2 1573.3 1568.8 1553.6 1583.4 1562.9C1598 1572.2 1605.3 1607.2 1627.2 1625.8C1649.1 1644.4 1685.6 1658.1 1714.8 1674.3C1744.1 1690.5 1787.9 1714.6 1802.5 1722.7"/>
<rect class="rm" x="1090.6" y="1254.1" width="21.3" height="21.3"/>
<rect class="rm" x="1222.1" y="1354.5" width="21.3" height="21.3"/>
<rect class="rm" x="1265.9" y="1362" width="21.3" height="21.3"/>
<rect class="rm" x="1309.8" y="1407.9" width="21.3" height="21.3"/>
<rect class="rm" x="1353.6" y="1417.4" width="21.3" height="21.3"/>
<rect class="rm" x="1397.4" y="1444.5" width="21.3" height="21.3"/>
<rect class="rm" x="1441.2" y="1499.8" width="21.3" height="21.3"/>
<rect class="rm" x="1485.1" y="1531.8" width="21.3" height="21.3"/>
<rect class="rm" x="1528.9" y="1559.3" width="21.3" height="21.3"/>
<rect class="rm" x="1572.7" y="1552.2" width="21.3" height="21.3"/>
<rect class="rm" x="1616.5" y="1615.1" width="21.3" height="21.3"/>
<rect class="rm" x="1704.2" y="1663.6" width="21.3" height="21.3"/>
<rect class="rm" x="1791.8" y="1712.1" width="21.3" height="21.3"/>
<path class="c" d="M1101.3 1668.6C1123.2 1631.7 1203.6 1489.2 1232.8 1446.9C1246 1427.8 1262 1416.6 1276.6 1415C1291.2 1413.5 1309 1419.7 1320.4 1437.5C1335 1460.2 1349.6 1535 1364.2 1551.1C1377.9 1566.1 1394.4 1548.9 1408.1 1533.9C1422.7 1517.9 1437.3 1448.9 1451.9 1455.1C1466.5 1461.3 1481.1 1550.5 1495.7 1571.1C1506.8 1586.7 1532.3 1596.4 1539.5 1578.7C1554.2 1542.9 1568.8 1402.7 1583.4 1356.6C1592.4 1328.1 1614 1275.5 1627.2 1302.4C1649.1 1347.3 1685.6 1598.4 1714.8 1625.8C1744.1 1653.2 1787.9 1493.4 1802.5 1466.9"/>
<circle class="cm" cx="1101.3" cy="1668.6" r="10.8"/>
<circle class="cm" cx="1232.8" cy="1446.9" r="10.8"/>
<circle class="cm" cx="1276.6" cy="1415" r="10.8"/>
<circle class="cm" cx="1320.4" cy="1437.5" r="10.8"/>
<circle class="cm" cx="1364.2" cy="1551.1" r="10.8"/>
<circle class="cm" cx="1408.1" cy="1533.9" r="10.8"/>
<circle class="cm" cx="1451.9" cy="1455.1" r="10.8"/>
<circle class="cm" cx="1495.7" cy="1571.1" r="10.8"/>
<circle class="cm" cx="1539.5" cy="1578.7" r="10.8"/>
<circle class="cm" cx="1583.4" cy="1356.6" r="10.8"/>
<circle class="cm" cx="1627.2" cy="1302.4" r="10.8"/>
<circle class="cm" cx="1714.8" cy="1625.8" r="10.8"/>
<circle class="cm" cx="1802.5" cy="1466.9" r="10.8"/>
</g>
<text class="pl" x="1062.6" y="1387" textLength="28.6" lengthAdjust="spacingAndGlyphs">(n)</text>
</g>
</svg>
</body></html>
